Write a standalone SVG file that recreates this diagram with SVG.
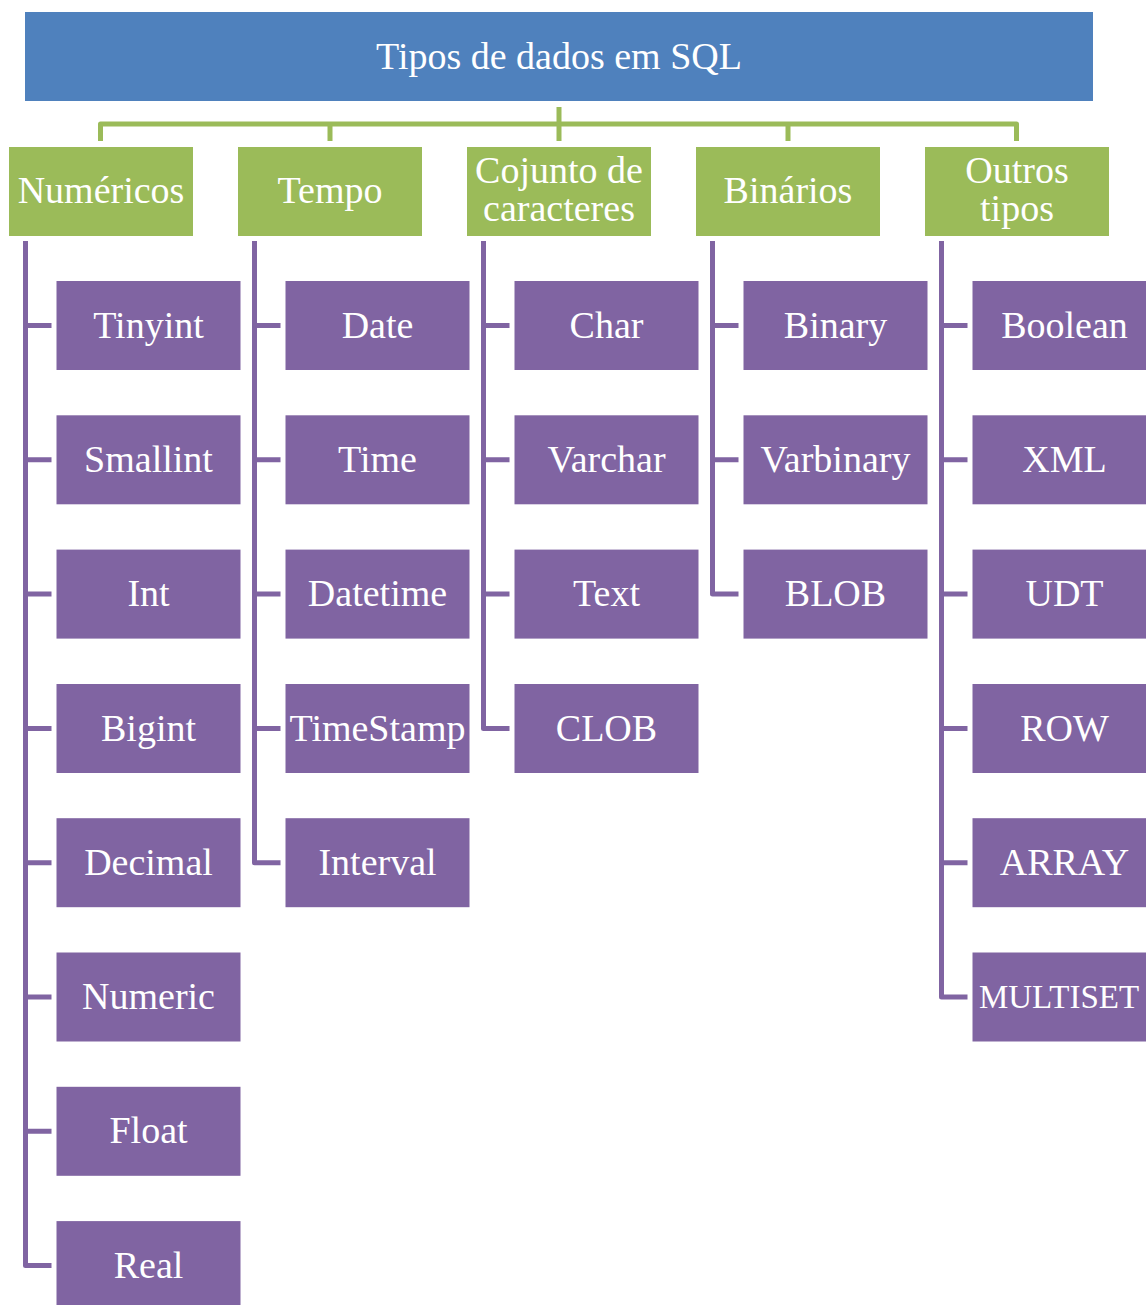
<svg xmlns="http://www.w3.org/2000/svg" width="1146" height="1305" viewBox="0 0 1146 1305">
<style>
.t{font-family:"Liberation Serif","Times New Roman",serif;font-size:38px;fill:#fff;text-anchor:middle}
.root{fill:#4F81BD}
.cat{fill:#9BBB59}
.item{fill:#8064A2}
.gl{fill:none;stroke:#9BBB59;stroke-width:5;stroke-linejoin:round}
.pl{fill:none;stroke:#8064A2;stroke-width:5;stroke-linejoin:round}
</style>
<rect width="1146" height="1305" fill="#fff"/>
<g id="connectors">
<path class="gl" d="M100.5,141 V124 H1016.5 V141"/>
<path class="gl" d="M559,107 V141"/>
<path class="gl" d="M330,124 V141 M788,124 V141"/>
<path class="pl" d="M25.5,241 V1265.5 H51.5 M25.5,325.5 H51.5 M25.5,459.8 H51.5 M25.5,594.1 H51.5 M25.5,728.5 H51.5 M25.5,862.7 H51.5 M25.5,997 H51.5 M25.5,1131.3 H51.5"/>
<path class="pl" d="M254.5,241 V862.7 H280.5 M254.5,325.5 H280.5 M254.5,459.8 H280.5 M254.5,594.1 H280.5 M254.5,728.5 H280.5"/>
<path class="pl" d="M483.5,241 V728.5 H509.5 M483.5,325.5 H509.5 M483.5,459.8 H509.5 M483.5,594.1 H509.5"/>
<path class="pl" d="M712.5,241 V594.1 H738.5 M712.5,325.5 H738.5 M712.5,459.8 H738.5"/>
<path class="pl" d="M941.5,241 V997 H967.5 M941.5,325.5 H967.5 M941.5,459.8 H967.5 M941.5,594.1 H967.5 M941.5,728.5 H967.5 M941.5,862.7 H967.5"/>
</g>
<g id="root"><rect class="root" x="25" y="12" width="1068" height="89"/><text class="t" x="559" y="69">Tipos de dados em SQL</text></g>
<g id="numericos"><rect class="cat" x="9" y="147" width="184" height="89"/><text class="t" x="101" y="203">Numéricos</text></g>
<g id="tempo"><rect class="cat" x="238" y="147" width="184" height="89"/><text class="t" x="330" y="203">Tempo</text></g>
<g id="conjunto"><rect class="cat" x="467" y="147" width="184" height="89"/><text class="t" x="559" y="183">Cojunto de</text><text class="t" x="559" y="221">caracteres</text></g>
<g id="binarios"><rect class="cat" x="696" y="147" width="184" height="89"/><text class="t" x="788" y="203">Binários</text></g>
<g id="outros"><rect class="cat" x="925" y="147" width="184" height="89"/><text class="t" x="1017" y="183">Outros</text><text class="t" x="1017" y="221">tipos</text></g>

<g id="tinyint"><rect class="item" x="56.5" y="281" width="184" height="89"/><text class="t" x="148.5" y="337.5">Tinyint</text></g>
<g id="smallint"><rect class="item" x="56.5" y="415.3" width="184" height="89"/><text class="t" x="148.5" y="471.8">Smallint</text></g>
<g id="int"><rect class="item" x="56.5" y="549.6" width="184" height="89"/><text class="t" x="148.5" y="606.1">Int</text></g>
<g id="bigint"><rect class="item" x="56.5" y="684" width="184" height="89"/><text class="t" x="148.5" y="740.5">Bigint</text></g>
<g id="decimal"><rect class="item" x="56.5" y="818.2" width="184" height="89"/><text class="t" x="148.5" y="874.7">Decimal</text></g>
<g id="numeric"><rect class="item" x="56.5" y="952.5" width="184" height="89"/><text class="t" x="148.5" y="1009">Numeric</text></g>
<g id="float"><rect class="item" x="56.5" y="1086.8" width="184" height="89"/><text class="t" x="148.5" y="1143.3">Float</text></g>
<g id="real"><rect class="item" x="56.5" y="1221.1" width="184" height="89"/><text class="t" x="148.5" y="1277.6">Real</text></g>

<g id="date"><rect class="item" x="285.5" y="281" width="184" height="89"/><text class="t" x="377.5" y="337.5">Date</text></g>
<g id="time"><rect class="item" x="285.5" y="415.3" width="184" height="89"/><text class="t" x="377.5" y="471.8">Time</text></g>
<g id="datetime"><rect class="item" x="285.5" y="549.6" width="184" height="89"/><text class="t" x="377.5" y="606.1">Datetime</text></g>
<g id="timestamp"><rect class="item" x="285.5" y="684" width="184" height="89"/><text class="t" x="377.5" y="740.5">TimeStamp</text></g>
<g id="interval"><rect class="item" x="285.5" y="818.2" width="184" height="89"/><text class="t" x="377.5" y="874.7">Interval</text></g>

<g id="char"><rect class="item" x="514.5" y="281" width="184" height="89"/><text class="t" x="606.5" y="337.5">Char</text></g>
<g id="varchar"><rect class="item" x="514.5" y="415.3" width="184" height="89"/><text class="t" x="606.5" y="471.8">Varchar</text></g>
<g id="text"><rect class="item" x="514.5" y="549.6" width="184" height="89"/><text class="t" x="606.5" y="606.1">Text</text></g>
<g id="clob"><rect class="item" x="514.5" y="684" width="184" height="89"/><text class="t" x="606.5" y="740.5">CLOB</text></g>

<g id="binary"><rect class="item" x="743.5" y="281" width="184" height="89"/><text class="t" x="835.5" y="337.5">Binary</text></g>
<g id="varbinary"><rect class="item" x="743.5" y="415.3" width="184" height="89"/><text class="t" x="835.5" y="471.8">Varbinary</text></g>
<g id="blob"><rect class="item" x="743.5" y="549.6" width="184" height="89"/><text class="t" x="835.5" y="606.1">BLOB</text></g>

<g id="boolean"><rect class="item" x="972.5" y="281" width="184" height="89"/><text class="t" x="1064.5" y="337.5">Boolean</text></g>
<g id="xml"><rect class="item" x="972.5" y="415.3" width="184" height="89"/><text class="t" x="1064.5" y="471.8">XML</text></g>
<g id="udt"><rect class="item" x="972.5" y="549.6" width="184" height="89"/><text class="t" x="1064.5" y="606.1">UDT</text></g>
<g id="row"><rect class="item" x="972.5" y="684" width="184" height="89"/><text class="t" x="1064.5" y="740.5">ROW</text></g>
<g id="array"><rect class="item" x="972.5" y="818.2" width="184" height="89"/><text class="t" x="1064.5" y="874.7">ARRAY</text></g>
<g id="multiset"><rect class="item" x="972.5" y="952.5" width="184" height="89"/><text class="t" x="1059" y="1008" style="font-size:33px">MULTISET</text></g>
</svg>
